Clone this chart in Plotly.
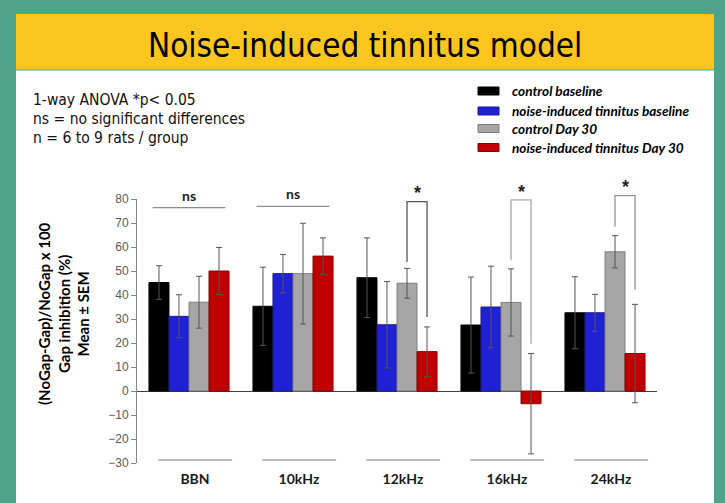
import plotly.graph_objects as go

# ---------------- data ----------------
categories = ["BBN", "10kHz", "12kHz", "16kHz", "24kHz"]
series_names = ["control baseline", "noise-induced tinnitus baseline",
                "control Day 30", "noise-induced tinnitus Day 30"]

control_baseline = [45.2, 35.3, 47.2, 27.5, 32.6]
control_baseline_sem = [7.0, 16.3, 16.6, 20.0, 15.0]
tinnitus_baseline = [31.1, 48.9, 27.6, 35.0, 32.6]
tinnitus_baseline_sem = [9.0, 8.0, 18.0, 17.0, 7.7]
control_day30 = [37.0, 48.9, 44.9, 36.9, 58.0]
control_day30_sem = [10.8, 21.0, 6.2, 14.0, 6.7]
tinnitus_day30 = [50.0, 56.2, 16.4, -5.3, 15.6]
tinnitus_day30_sem = [9.8, 7.6, 10.3, 20.9, 20.5]

y_ticks = [80, 70, 60, 50, 40, 30, 20, 10, 0, -10, -20, -30]

# significance marks
ns_categories = ["BBN", "10kHz"]
ns_line_y = [76.4, 76.9]
star_categories = ["12kHz", "16kHz", "24kHz"]
bracket_top_y = [78.9, 79.6, 81.4]
bracket_left_y = [53.8, 54.5, 68.4]
bracket_right_y = [30.8, 19.7, 42.2]

notes = ["1-way ANOVA *p< 0.05", "ns = no significant differences", "n = 6 to 9 rats / group"]
title_text = "Noise-induced tinnitus model"
y_title = "(NoGap-Gap)/NoGap x 100<br>Gap inhibition (%)<br>Mean ± SEM"

# ---------------- styles ----------------
W, H = 725, 503
L, R, T, B = 137, 68, 199, 40
Y_MIN, Y_MAX = -30, 80
BARGAP = 0.23
TEAL = "#4fa38b"
YELLOW = "#fbc51f"
colors = ["#000000", "#2020d4", "#a6a6a6", "#c00000"]
line_colors = ["#000000", "#1a1a90", "#7f7f7f", "#8a0000"]
NARROW = "Liberation Sans Narrow, DejaVu Sans Condensed, Roboto, sans-serif"
HUMAN = "Lato, Open Sans, sans-serif"

plot_w = W - L - R
plot_h = H - T - B


def px_x(px):
    return (px - L) / plot_w


def px_y(py):
    return (H - B - py) / plot_h


def val_y(v):
    return (v - Y_MIN) / (Y_MAX - Y_MIN)


values = [control_baseline, tinnitus_baseline, control_day30, tinnitus_day30]
sems = [control_baseline_sem, tinnitus_baseline_sem, control_day30_sem, tinnitus_day30_sem]

fig = go.Figure()
for name, vals, err, c, lc in zip(series_names, values, sems, colors, line_colors):
    fig.add_trace(go.Bar(
        x=categories, y=vals, name=name,
        marker=dict(color=c, line=dict(color=lc, width=1)),
        error_y=dict(type="data", array=err, symmetric=True,
                     color="#555555", thickness=1, width=3),
        showlegend=False,
    ))

shapes = []
annotations = []

# background panel
shapes.append(dict(type="rect", xref="paper", yref="paper", layer="below",
                   x0=px_x(16), x1=px_x(714), y0=px_y(H + 20), y1=px_y(70.5),
                   fillcolor="white", line=dict(width=0)))
shapes.append(dict(type="rect", xref="paper", yref="paper", layer="below",
                   x0=px_x(16), x1=px_x(714), y0=px_y(69.5), y1=px_y(14),
                   fillcolor=YELLOW, line=dict(width=0)))

annotations.append(dict(text=title_text, xref="paper", yref="paper",
                        x=px_x(365), y=px_y(45), showarrow=False,
                        xanchor="center", yanchor="middle",
                        font=dict(family=NARROW, size=33, color="#000000")))

for i, t in enumerate(notes):
    annotations.append(dict(text=t, xref="paper", yref="paper",
                            x=px_x(31), y=px_y(100 + 19 * i), showarrow=False,
                            xanchor="left", yanchor="middle",
                            font=dict(family=NARROW, size=15.5, color="#111111")))

# custom legend
legend_rows = [91, 111, 128.5, 147.5]
for name, c, lc, row in zip(series_names, colors, line_colors, legend_rows):
    shapes.append(dict(type="rect", xref="paper", yref="paper",
                       x0=px_x(478), x1=px_x(499), y0=px_y(row + 4), y1=px_y(row - 4),
                       fillcolor=c, line=dict(color=lc, width=1)))
    annotations.append(dict(text=name, xref="paper", yref="paper",
                            x=px_x(510), y=px_y(row), showarrow=False,
                            xanchor="left", yanchor="middle",
                            font=dict(family=HUMAN, size=13.6, color="#000000",
                                      weight="bold", style="italic")))

# y-axis title
annotations.append(dict(text=y_title, xref="paper", yref="paper",
                        x=px_x(63), y=px_y(314), showarrow=False, textangle=-90,
                        xanchor="center", yanchor="middle",
                        font=dict(family=HUMAN, size=15, color="#000000", weight="bold")))

# bar geometry within a category (layout)
bw = (1 - BARGAP) / 4
offs = [(k - 1.5) * bw for k in range(4)]

# gray segments under each category
for i, c in enumerate(categories):
    shapes.append(dict(type="line", xref="x", yref="y",
                       x0=i + 0.06 - 0.355, x1=i + 0.06 + 0.355, y0=-28.7, y1=-28.7,
                       line=dict(color="#a3a3a3", width=1.5)))

# ns lines
for c, ly in zip(ns_categories, ns_line_y):
    i = categories.index(c)
    shapes.append(dict(type="line", xref="x", yref="paper",
                       x0=i - 0.35, x1=i + 0.35, y0=val_y(ly), y1=val_y(ly),
                       line=dict(color="#8c8c8c", width=1.2)))
    annotations.append(dict(text="ns", xref="x", yref="paper", x=i, y=val_y(ly + 5.2),
                            showarrow=False, xanchor="center", yanchor="middle",
                            font=dict(family=HUMAN, size=14, color="#222222", weight="bold")))

# significance brackets
bracket_colors = ["#555555", "#a8a8a8", "#959595"]
for c, top, yl, yr, bc in zip(star_categories, bracket_top_y, bracket_left_y,
                              bracket_right_y, bracket_colors):
    i = categories.index(c)
    xl, xr = i + offs[2], i + offs[3]
    shapes.append(dict(type="path", xref="x", yref="paper",
                       path=f"M{xl},{val_y(yl)} L{xl},{val_y(top)} L{xr},{val_y(top)} L{xr},{val_y(yr)}",
                       line=dict(color=bc, width=1.3)))
    annotations.append(dict(text="*", xref="x", yref="paper", x=(xl + xr) / 2,
                            y=val_y(top - 1.5), showarrow=False,
                            xanchor="center", yanchor="bottom",
                            font=dict(family="Liberation Sans, Arial, sans-serif", size=18,
                                      color="#222222", weight="bold")))

fig.update_layout(
    width=W, height=H,
    margin=dict(l=L, r=R, t=T, b=B, pad=0),
    paper_bgcolor=TEAL, plot_bgcolor="white",
    barmode="group", bargap=BARGAP, bargroupgap=0,
    shapes=shapes, annotations=annotations,
    showlegend=False,
    xaxis=dict(showline=False, ticks="", showgrid=False, zeroline=False,
               tickfont=dict(family=HUMAN, size=14, color="#1a1a1a", weight="bold"),
               ticklabelshift=6, ticklabelstandoff=6),
    yaxis=dict(range=[Y_MIN, Y_MAX], tickvals=y_ticks, showgrid=False,
               showline=True, linecolor="#868686", linewidth=1,
               ticks="outside", ticklen=5, tickcolor="#868686",
               zeroline=True, zerolinecolor="#404040", zerolinewidth=1,
               tickfont=dict(family="Liberation Sans, Arial, sans-serif", size=12, color="#595959")),
)

fig.write_html("out.html", config={"displayModeBar": False},
               post_script="document.body.style.margin='0';")
